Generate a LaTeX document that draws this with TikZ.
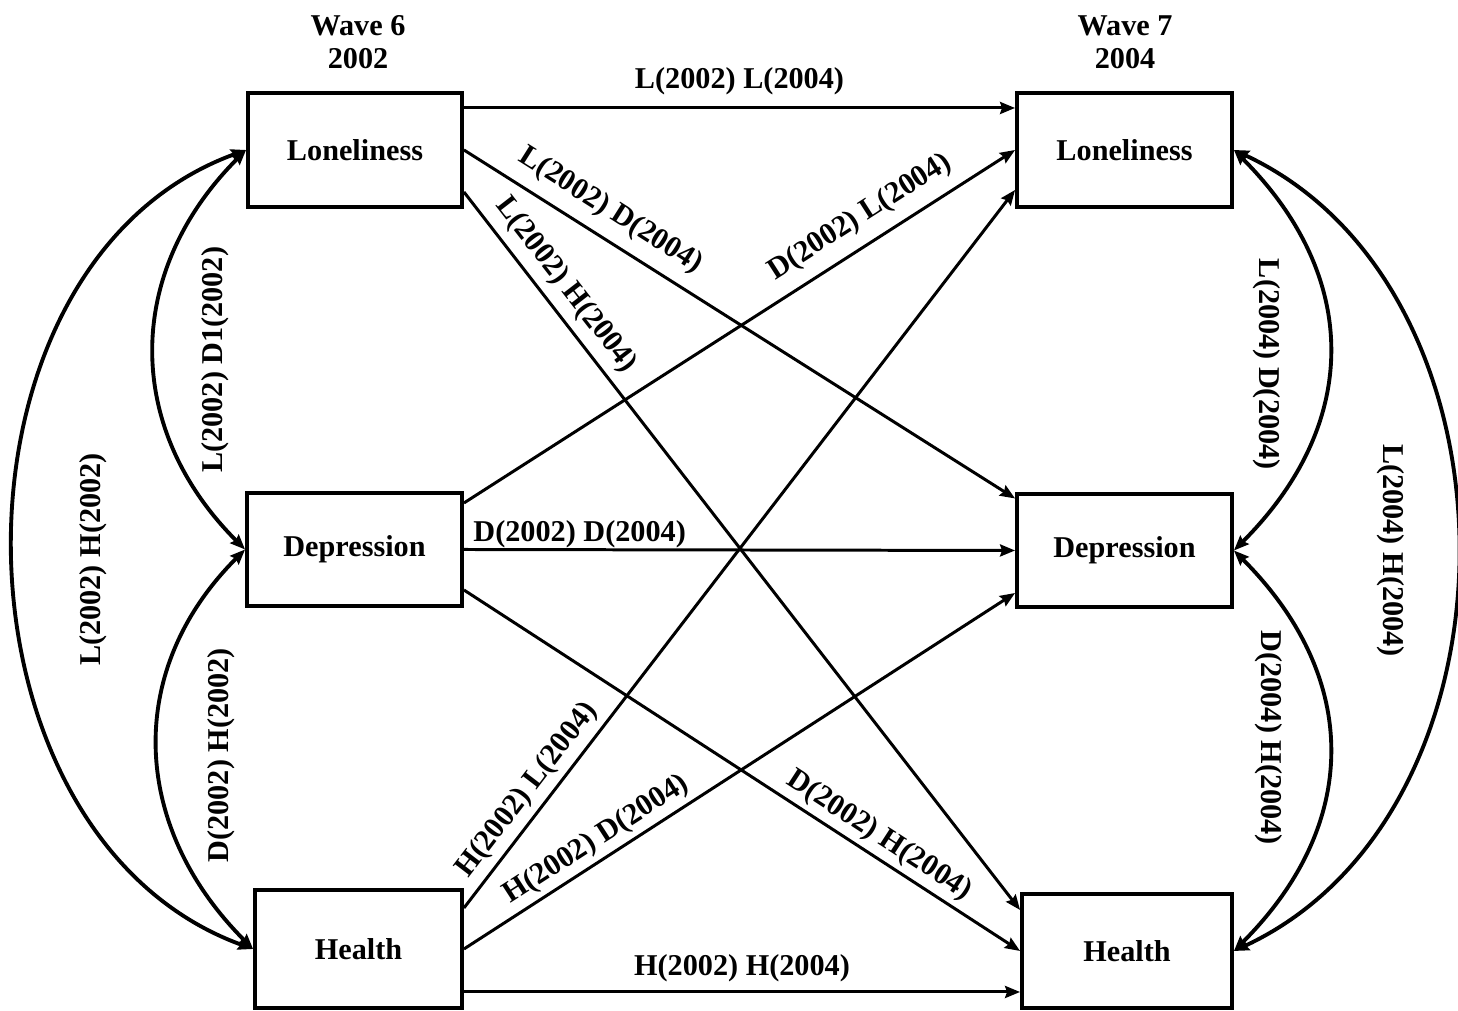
\documentclass[tikz,border=0pt]{standalone}
\usepackage{fontspec}
\setmainfont{Liberation Serif}
\usetikzlibrary{arrows.meta}
\tikzset{
	every node/.style={font=\fontsize{8.6}{9.5}\selectfont\bfseries},
	box/.style={draw,line width=1.1pt,minimum width=2.14cm,minimum height=1.14cm,inner sep=0pt},
	effect/.style={-{Stealth[length=0.15cm,width=0.12cm,inset=0.02cm]},line width=0.85pt},
	cov/.style={{Stealth[length=0.15cm,width=0.12cm,inset=0.02cm]}-{Stealth[length=0.15cm,width=0.12cm,inset=0.02cm]},line width=1.1pt}
}
\begin{document}
\begin{tikzpicture}
		\useasboundingbox (0,0) rectangle (14.58,10.11);
		\node[align=center] (wave6) at (3.58,9.69) {Wave 6\\2002};
		\node[align=center] (wave7) at (11.25,9.69) {Wave 7\\2004};
		\node[box] (lone6) at (3.55,8.61) {Loneliness};
		\node[box,minimum width=2.15cm,minimum height=1.13cm] (dep6) at (3.545,4.615) {Depression};
		\node[box,minimum width=2.07cm,minimum height=1.18cm] (heal6) at (3.585,0.62) {Health};
		\node[box,minimum width=2.15cm] (lone7) at (11.245,8.61) {Loneliness};
		\node[box,minimum width=2.15cm,minimum height=1.13cm] (dep7) at (11.245,4.605) {Depression};
		\node[box,minimum width=2.10cm] (heal7) at (11.27,0.60) {Health};
		\draw[effect] ([yshift=0.42cm]lone6.east) -- node[above]{L(2002) L(2004)} ([yshift=0.42cm]lone7.west);
		\draw[effect] (lone6.east) -- node[pos=0.24,sloped,above]{L(2002) D(2004)} ([yshift=0.52cm]dep7.west);
		\draw[effect] ([yshift=-0.42cm]lone6.east) -- node[pos=0.15,sloped,above=-1pt]{L(2002) H(2004)} ([yshift=0.41cm]heal7.west);
		\draw[effect] ([yshift=0.465cm]dep6.east) -- node[pos=0.745,sloped,above]{D(2002) L(2004)} (lone7.west);
		\draw[effect] (dep6.east) -- node[pos=0.21,above,inner sep=0pt]{D(2002) D(2004)} (dep7.west);
		\draw[effect] ([yshift=-0.405cm]dep6.east) -- node[pos=0.727,sloped,above=-2pt]{D(2002) H(2004)} (heal7.west);
		\draw[effect] ([yshift=0.41cm]heal6.east) -- node[pos=0.146,sloped,above=-1.5pt]{H(2002) L(2004)} ([yshift=-0.40cm]lone7.west);
		\draw[effect] (heal6.east) -- node[pos=0.26,sloped,above=-2pt]{H(2002) D(2004)} ([yshift=-0.425cm]dep7.west);
		\draw[effect] ([yshift=-0.43cm]heal6.east) -- node[above=-1pt]{H(2002) H(2004)} ([yshift=-0.41cm]heal7.west);
		\draw[cov] (lone6.west) to[out=225,in=135,looseness=1.1] node[midway,xshift=0.61cm,yshift=-0.1cm,rotate=90]{L(2002) D1(2002)} (dep6.west);
		\draw[cov] (dep6.west) to[out=225,in=135,looseness=1.1] node[midway,xshift=0.63cm,yshift=-0.06cm,rotate=90]{D(2002) H(2002)} (heal6.west);
		\draw[cov] (lone6.west) to[out=200,in=160,looseness=1.07] node[midway,xshift=0.8cm,yshift=-0.1cm,rotate=90]{L(2002) H(2002)} (heal6.west);
		\draw[cov] (lone7.east) to[out=-45,in=45,looseness=1.15] node[midway,xshift=-0.62cm,yshift=-0.14cm,rotate=-90]{L(2004) D(2004)} (dep7.east);
		\draw[cov] (dep7.east) to[out=-45,in=45,looseness=1.15] node[midway,xshift=-0.6cm,yshift=0.13cm,rotate=-90]{D(2004) H(2004)} (heal7.east);
		\draw[cov] (lone7.east) to[out=-25,in=25,looseness=1.05] node[midway,xshift=-0.66cm,rotate=-90]{L(2004) H(2004)} (heal7.east);
	\end{tikzpicture}
\end{document}
